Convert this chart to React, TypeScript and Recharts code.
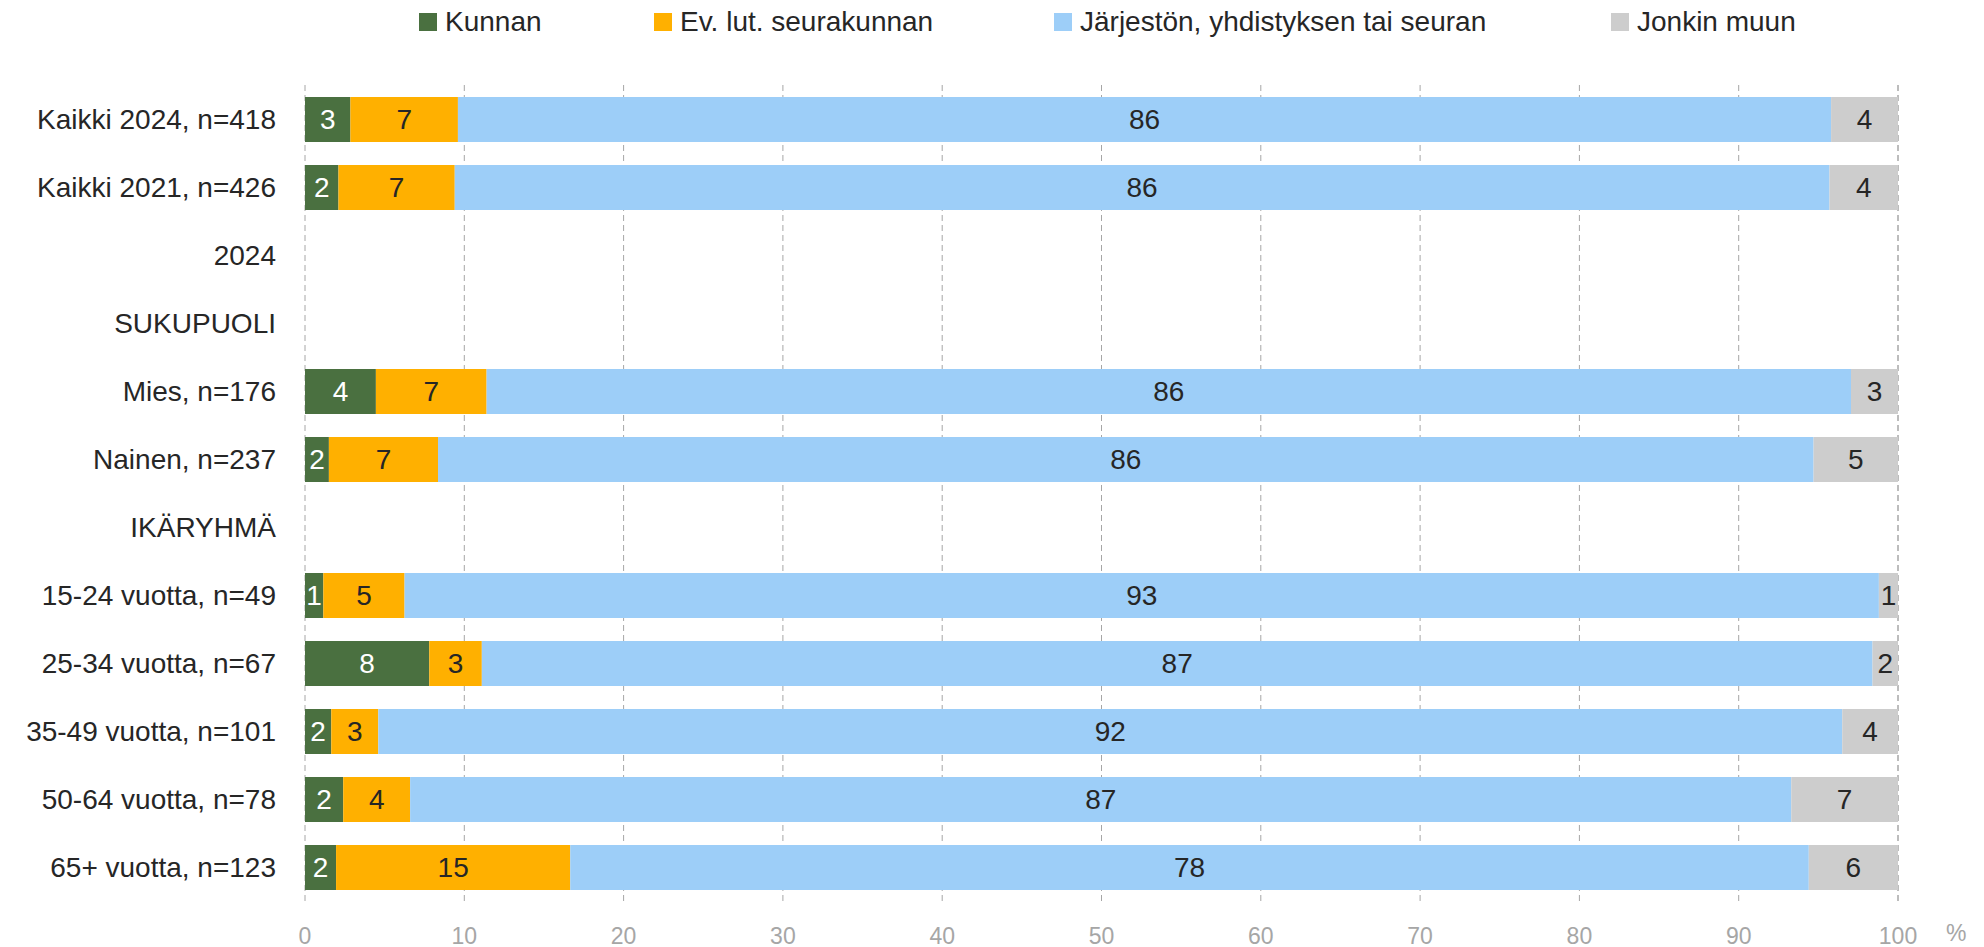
import { Bar, BarChart, CartesianGrid, Label, LabelList, XAxis, YAxis } from "recharts";

const categories = [
  "Kaikki 2024, n=418",
  "Kaikki 2021, n=426",
  "2024",
  "SUKUPUOLI",
  "Mies, n=176",
  "Nainen, n=237",
  "IKÄRYHMÄ",
  "15-24 vuotta, n=49",
  "25-34 vuotta, n=67",
  "35-49 vuotta, n=101",
  "50-64 vuotta, n=78",
  "65+ vuotta, n=123",
];

const kunnan = [2.85, 2.1, null, null, 4.45, 1.5, null, 1.15, 7.8, 1.65, 2.4, 1.95];
const seurakunta = [6.75, 7.3, null, null, 6.95, 6.85, null, 5.1, 3.3, 2.95, 4.2, 14.7];
const jarjesto = [86.2, 86.3, null, null, 85.65, 86.35, null, 92.55, 87.3, 91.9, 86.7, 77.75];
const muu = [4.2, 4.3, null, null, 2.95, 5.3, null, 1.2, 1.6, 3.5, 6.7, 5.6];

const xTicks = [0, 10, 20, 30, 40, 50, 60, 70, 80, 90, 100];

const SERIES = [
  { key: "kunnan", name: "Kunnan", color: "#4A7040", labelColor: "#ffffff" },
  { key: "seurakunta", name: "Ev. lut. seurakunnan", color: "#FFB000", labelColor: "#262626" },
  { key: "jarjesto", name: "Järjestön, yhdistyksen tai seuran", color: "#9DCEF8", labelColor: "#262626" },
  { key: "muu", name: "Jonkin muun", color: "#CDCDCD", labelColor: "#262626" },
];

// left edge of each legend swatch, page px
const LEGEND_X = [419, 654, 1054, 1611];

const FONT = "'Liberation Sans', Arial, sans-serif";

const data = categories.map((c, i) => ({
  name: c,
  kunnan: kunnan[i],
  seurakunta: seurakunta[i],
  jarjesto: jarjesto[i],
  muu: muu[i],
}));

const fmt = (v: any) => (v == null ? "" : String(Math.round(Number(v))));

export default function App() {
  return (
    <div style={{ position: "absolute", left: 0, top: 0, width: 1984, height: 947, fontFamily: FONT }}>
      {SERIES.map((s, i) => (
        <div
          key={s.key}
          style={{
            position: "absolute",
            left: LEGEND_X[i],
            top: 4,
            height: 36,
            display: "flex",
            alignItems: "center",
            fontSize: 28,
            color: "#262626",
            whiteSpace: "nowrap",
          }}
        >
          <span style={{ width: 18, height: 18, background: s.color, marginRight: 8, display: "inline-block" }} />
          <span>{s.name}</span>
        </div>
      ))}
      <BarChart
        width={1984}
        height={947}
        data={data}
        layout="vertical"
        margin={{ top: 85, right: 86, bottom: 0, left: 0 }}
        style={{ fontFamily: FONT }}
      >
        <CartesianGrid horizontal={false} stroke="#A6A6A6" strokeDasharray="6 4" />
        <XAxis
          type="number"
          domain={[0, 100]}
          ticks={xTicks}
          height={46}
          axisLine={false}
          tickLine={false}
          tickSize={0}
          tickMargin={27}
          interval={0}
          tick={{ fill: "#A6A6A6", fontSize: 23 }}
        >
          <Label value="%" position="right" offset={48} dy={9} fill="#A6A6A6" fontSize={23} />
        </XAxis>
        <YAxis
          type="category"
          dataKey="name"
          width={305}
          axisLine={false}
          tickLine={false}
          tickSize={0}
          tickMargin={29}
          interval={0}
          tick={{ fill: "#262626", fontSize: 28 }}
        />
        {SERIES.map((s) => (
          <Bar key={s.key} dataKey={s.key} stackId="a" fill={s.color} barSize={45} isAnimationActive={false}>
            <LabelList
              dataKey={s.key}
              position="center"
              formatter={fmt}
              fill={s.labelColor}
              fontSize={28}
              fontFamily={FONT}
            />
          </Bar>
        ))}
      </BarChart>
    </div>
  );
}
